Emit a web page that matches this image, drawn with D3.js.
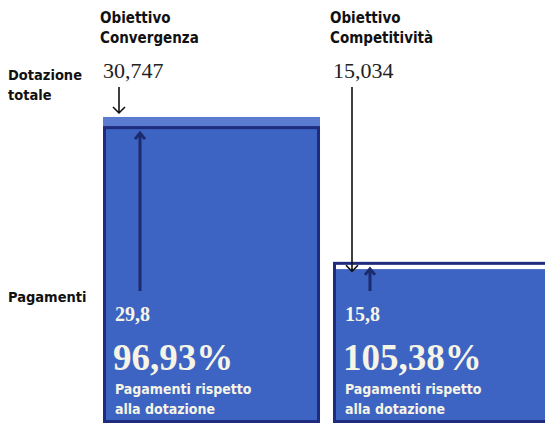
<!DOCTYPE html>
<html>
<head>
<meta charset="utf-8">
<script src="https://cdn.jsdelivr.net/npm/d3@7"></script>
<style>
body { margin: 0; background: #fff; }
svg { display: block; }
.lab { font-family: "DejaVu Sans Condensed", "DejaVu Sans", sans-serif; font-weight: bold; font-stretch: condensed; fill: #111; }
.num { font-family: "Liberation Serif", "DejaVu Serif", serif; fill: #222; }
.inner { font-family: "Liberation Serif", serif; font-weight: bold; fill: #f6f4e6; }
.sub { font-family: "DejaVu Sans Condensed", sans-serif; font-weight: bold; fill: #f6f4e6; }
</style>
</head>
<body>
<div id="chart"></div>
<script>
// dati (miliardi di euro)
var obiettivi = ["Convergenza", "Competitività"];
var dotazione = [30.747, 15.034];
var pagamenti = [29.8, 15.8];
var percentuali = [96.93, 105.38];
var dotazioneLabel = ["30,747", "15,034"];
var pagamentiLabel = ["29,8", "15,8"];

var width = 545, height = 429;
var base = 423;

var svg = d3.select("#chart")
.append("svg")
.attr("width", width)
.attr("height", height);

var x = d3.scaleBand()
    .domain(obiettivi)
    .range([103, 550])
    .paddingInner(0.0565)
    .paddingOuter(0);

var y = d3.scaleLinear()
    .domain([0, 31])
    .range([415, 114.5]);

var data = obiettivi.map(function(d, i){
    return {name: d, dot: dotazione[i], pag: pagamenti[i], perc: percentuali[i],
            dotLab: dotazioneLabel[i], pagLab: pagamentiLabel[i]};
});

var fmtPerc = function(v){ return v.toFixed(2).replace(".", ",") + "%"; };

var g = svg.selectAll("g.bar")
.data(data)
.enter()
.append("g")
.attr("class", "bar");

// dotazione
g.append("rect")
.attr("x", function(d){ return x(d.name); })
.attr("y", function(d){ return y(d.dot); })
.attr("width", x.bandwidth())
.attr("height", function(d){ return base - y(d.dot); })
.attr("fill", "#5a7bd0");

// parte comune
g.append("rect")
.attr("x", function(d){ return x(d.name); })
.attr("y", function(d){ return y(Math.min(d.dot, d.pag)); })
.attr("width", x.bandwidth())
.attr("height", function(d){ return base - y(Math.min(d.dot, d.pag)); })
.attr("fill", "#3d64c2");

// pagamenti (contorno)
g.append("rect")
.attr("x", function(d){ return x(d.name) + 1.5; })
.attr("y", function(d){ return y(d.pag) + 1.5; })
.attr("width", x.bandwidth() - 3)
.attr("height", function(d){ return base - y(d.pag) - 3; })
.attr("fill", "none")
.attr("stroke", "#1f2b7c")
.attr("stroke-width", 3);

// freccia giu (dotazione)
g.append("path")
.attr("d", function(d){
    var ax = x(d.name) + (d.dot > d.pag ? 16 : 19);
    var y1 = d.dot > d.pag ? y(d.dot) - 4 : y(d.dot) + 2;
    return "M" + ax + ",87V" + y1 + "M" + (ax - 6) + "," + (y1 - 6) + "L" + ax + "," + y1 + "L" + (ax + 6) + "," + (y1 - 6);
})
.attr("fill", "none")
.attr("stroke", "#111")
.attr("stroke-width", 1.6);

// freccia su (pagamenti)
g.append("path")
.attr("d", function(d){
    var ax = x(d.name) + 37;
    var y1 = y(d.pag) + 7;
    return "M" + ax + ",291V" + y1 + "M" + (ax - 5) + "," + (y1 + 6) + "L" + ax + "," + y1 + "L" + (ax + 5) + "," + (y1 + 6);
})
.attr("fill", "none")
.attr("stroke", "#1c2a6e")
.attr("stroke-width", 3);

// titoli
var t = g.append("text")
.attr("class", "lab")
.style("font-size", "15px");
t.append("tspan")
.attr("x", function(d){ return x(d.name) - 3; })
.attr("y", 23)
.text("Obiettivo");
t.append("tspan")
.attr("x", function(d){ return x(d.name) - 3; })
.attr("y", 43)
.text(function(d){ return d.name; });

g.append("text")
.attr("class", "num")
.attr("x", function(d){ return x(d.name); })
.attr("y", 78)
.style("font-size", "22px")
.text(function(d){ return d.dotLab; });

g.append("text")
.attr("class", "inner")
.attr("x", function(d){ return x(d.name) + 12; })
.attr("y", 321)
.style("font-size", "20px")
.text(function(d){ return d.pagLab; });

g.append("text")
.attr("class", "inner")
.attr("x", function(d){ return x(d.name) + 10; })
.attr("y", 370)
.style("font-size", "37px")
.text(function(d){ return fmtPerc(d.perc); });

var s = g.append("text")
.attr("class", "sub")
.style("font-size", "14px");
s.append("tspan")
.attr("x", function(d){ return x(d.name) + 12; })
.attr("y", 394)
.text("Pagamenti rispetto");
s.append("tspan")
.attr("x", function(d){ return x(d.name) + 12; })
.attr("y", 414)
.text("alla dotazione");

// etichette a sinistra
var l = svg.append("text")
.attr("class", "lab")
.style("font-size", "14.5px");
l.append("tspan").attr("x", 8).attr("y", 80).text("Dotazione");
l.append("tspan").attr("x", 8).attr("y", 100).text("totale");

svg.append("text")
.attr("class", "lab")
.style("font-size", "14.5px")
.attr("x", 8)
.attr("y", 302)
.text("Pagamenti");
</script>
</body>
</html>
